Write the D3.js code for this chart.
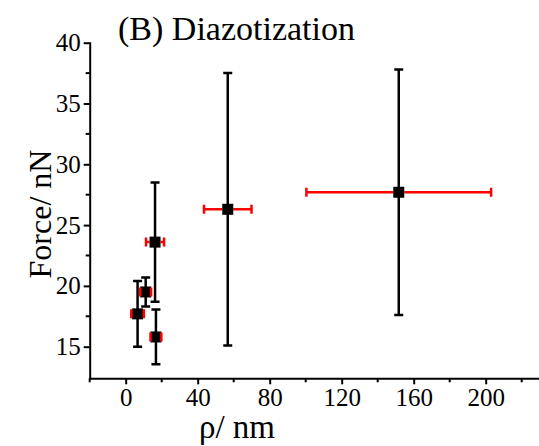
<!DOCTYPE html>
<html>
<head>
<meta charset="utf-8">
<script src="https://cdn.jsdelivr.net/npm/d3@7"></script>
</head>
<body style="margin:0; background:#fff">
<div id="chart"></div>
<script>
// data
var rho = [6.6, 11.1, 16.3, 16.8, 56.7, 151.7]
var rhoErr = [3.5, 3, 5, 3, 13.2, 51.3]
var force = [17.7, 19.5, 23.6, 15.8, 26.3, 27.7]
var forceErr = [2.7, 1.2, 4.9, 2.25, 11.2, 10.1]

var xTicks = [0, 40, 80, 120, 160, 200]
var xMinor = [-20, 20, 60, 100, 140, 180, 220]
var yTicks = [15, 20, 25, 30, 35, 40]
var yMinor = [17.5, 22.5, 27.5, 32.5, 37.5]

var width = 539, height = 446
var serif = "Liberation Serif"

var datapoints = rho.map(function (r, i) {
   return { x: r, xe: rhoErr[i], y: force[i], ye: forceErr[i] }
})

var svg = d3.select("#chart").append("svg")
            .attr("width", width)
            .attr("height", height)
            .attr("font-family", serif)

var scalex = d3.scaleLinear()
               .domain([-20, 230])
               .range([89.7, 539.7])

var scaley = d3.scaleLinear()
               .domain([12.4, 40])
               .range([378.3, 42.7])

// axes: major + minor ticks, outward
var xAxis = svg.append("g")
   .attr("transform", "translate(0," + scaley(12.4) + ")")
   .call(d3.axisBottom(scalex).tickValues(xTicks).tickSize(6).tickSizeOuter(0).tickPadding(4))
xAxis.append("g").selectAll("line").data(xMinor)
   .enter().append("line")
   .attr("x1", function (d) { return scalex(d) })
   .attr("x2", function (d) { return scalex(d) })
   .attr("y1", 0).attr("y2", 4)
   .attr("stroke", "#000").attr("stroke-width", 2)

var yAxis = svg.append("g")
   .attr("transform", "translate(" + scalex(-20) + ",0)")
   .call(d3.axisLeft(scaley).tickValues(yTicks).tickSize(6).tickSizeOuter(0).tickPadding(3))
yAxis.append("g").selectAll("line").data(yMinor)
   .enter().append("line")
   .attr("y1", function (d) { return scaley(d) })
   .attr("y2", function (d) { return scaley(d) })
   .attr("x1", 0).attr("x2", -4)
   .attr("stroke", "#000").attr("stroke-width", 2)

// d3 puts sans-serif on the axis groups, put the serif back
xAxis.attr("font-family", serif).attr("font-size", 25)
yAxis.attr("font-family", serif).attr("font-size", 25)
svg.selectAll(".domain").attr("stroke-width", 2).attr("stroke-linecap", "square")
svg.selectAll(".tick line").attr("stroke-width", 2)
svg.selectAll(".tick text").attr("fill", "#000")

// vertical (force) error bars, black
var ebar = svg.append("g")
var cap = 4.5
ebar.selectAll(".ey").data(datapoints).enter().append("path")
   .attr("d", function (d) {
      var x = scalex(d.x), y1 = scaley(d.y - d.ye), y2 = scaley(d.y + d.ye)
      return "M" + x + "," + y1 + "V" + y2 +
             "M" + (x - cap) + "," + y1 + "H" + (x + cap) +
             "M" + (x - cap) + "," + y2 + "H" + (x + cap)
   })
   .attr("stroke", "#000").attr("stroke-width", 2.5).attr("fill", "none")

// horizontal (rho) error bars, red, stopping at the marker
var half = 5.5
ebar.selectAll(".ex").data(datapoints).enter().append("path")
   .attr("d", function (d) {
      var y = scaley(d.y), x1 = scalex(d.x - d.xe), x2 = scalex(d.x + d.xe), cx = scalex(d.x)
      var s = ""
      if (cx - half > x1) s += "M" + x1 + "," + y + "H" + (cx - half)
      if (x2 > cx + half) s += "M" + (cx + half) + "," + y + "H" + x2
      return s
   })
   .attr("stroke", "#ff0000").attr("stroke-width", 2.5).attr("fill", "none")

// squares
svg.append("g").selectAll("rect").data(datapoints)
   .enter().append("rect")
   .attr("x", function (d) { return scalex(d.x) - half })
   .attr("y", function (d) { return scaley(d.y) - half })
   .attr("width", half * 2)
   .attr("height", half * 2)
   .attr("fill", "#000")

// red caps on top of the squares
svg.append("g").selectAll("path").data(datapoints)
   .enter().append("path")
   .attr("d", function (d) {
      var y = scaley(d.y), x1 = scalex(d.x - d.xe), x2 = scalex(d.x + d.xe)
      return "M" + x1 + "," + (y - cap) + "V" + (y + cap) +
             "M" + x2 + "," + (y - cap) + "V" + (y + cap)
   })
   .attr("stroke", "#ff0000").attr("stroke-width", 2.5).attr("fill", "none")

// titles
svg.append("text")
   .attr("x", 118).attr("y", 40)
   .attr("font-size", 34)
   .text("(B) Diazotization")

svg.append("text")
   .attr("transform", "translate(51,214) rotate(-90)")
   .attr("text-anchor", "middle")
   .attr("font-size", 32)
   .text("Force/ nN")

svg.append("text")
   .attr("x", 237).attr("y", 438)
   .attr("text-anchor", "middle")
   .attr("font-size", 33)
   .text("ρ/ nm")
</script>
</body>
</html>
